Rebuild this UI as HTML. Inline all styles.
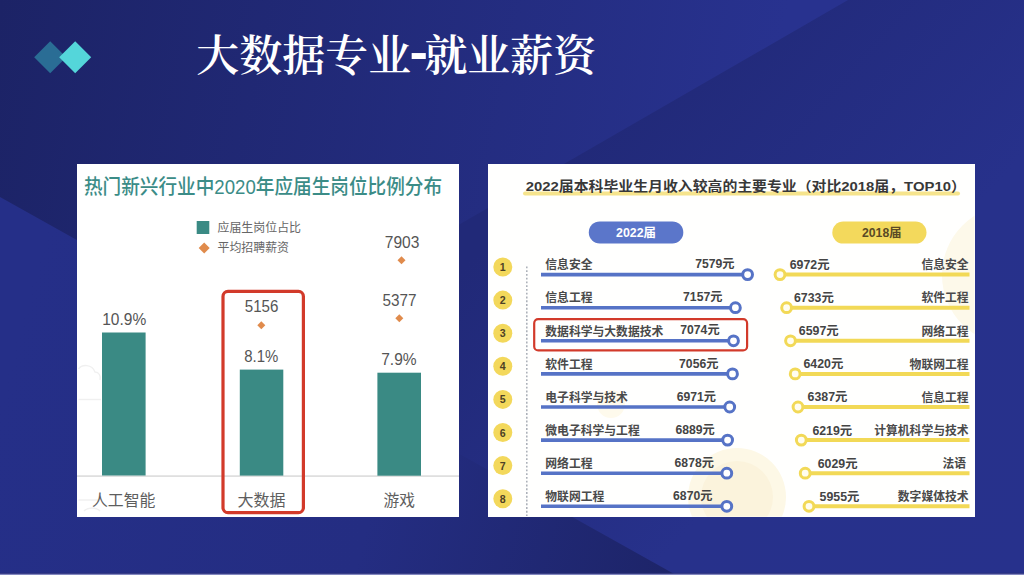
<!DOCTYPE html>
<html lang="zh-CN">
<head>
<meta charset="utf-8">
<title>大数据专业-就业薪资</title>
<style>
html,body{margin:0;padding:0;}
body{width:1024px;height:575px;overflow:hidden;position:relative;background:#232c80;font-family:"Liberation Sans",sans-serif;}
#bg{position:absolute;left:0;top:0;width:1024px;height:575px;}
#title{position:absolute;left:196.2px;top:28.6px;font-family:"Liberation Serif","Noto Serif CJK SC","Noto Serif SC",serif;font-weight:600;font-size:43px;line-height:56px;color:#fff;white-space:nowrap;letter-spacing:0px;}
#title .hy{font-size:54px;line-height:0;font-weight:700;display:inline-block;width:13.2px;text-align:center;text-indent:-1.5px;position:relative;top:-2.2px;transform:scaleY(1.3);}
#lp{position:absolute;left:76.5px;top:164px;width:382.5px;height:353px;background:#fff;overflow:hidden;}
#rp{position:absolute;left:488px;top:164px;width:486.5px;height:352.5px;background:#fffffe;overflow:hidden;}
svg text{font-family:"Liberation Sans","Noto Sans CJK SC",sans-serif;}
#ch{position:absolute;left:0;top:0;width:1024px;height:575px;}
</style>
</head>
<body>
<svg id="bg" viewBox="0 0 1024 575">
  <defs>
    <linearGradient id="g0" gradientUnits="userSpaceOnUse" x1="560" y1="160" x2="1024" y2="575">
      <stop offset="0" stop-color="#212978"/>
      <stop offset="0.55" stop-color="#27318b"/>
      <stop offset="1" stop-color="#27318c"/>
    </linearGradient>
    <linearGradient id="g1" gradientUnits="userSpaceOnUse" x1="0" y1="0" x2="760" y2="150">
      <stop offset="0" stop-color="#1c2366"/>
      <stop offset="1" stop-color="#28328f"/>
    </linearGradient>
    <linearGradient id="g3" gradientUnits="userSpaceOnUse" x1="0" y1="400" x2="680" y2="575">
      <stop offset="0" stop-color="#252f88"/>
      <stop offset="0.55" stop-color="#242d82"/>
      <stop offset="1" stop-color="#1d2468"/>
    </linearGradient>
  </defs>
  <rect width="1024" height="575" fill="url(#g0)"/>
  <polygon points="0,0 848,0 0,489.6" fill="url(#g1)"/>
  <polygon points="0,197 676,575 0,575" fill="url(#g3)"/>
  <rect x="0" y="572.8" width="1024" height="1" fill="#2a3077" opacity="0.8"/>
  <rect x="0" y="573.8" width="1024" height="1.2" fill="#8287bf"/>
</svg>
<svg style="position:absolute;left:30px;top:38px" width="70" height="40" viewBox="30 38 70 40">
  <polygon points="34.2,57.3 50.2,41.3 66.2,57.3 50.2,73.3" fill="#2a6d95"/>
  <polygon points="59.2,57.3 75.2,41.3 91.2,57.3 75.2,73.3" fill="#54d6da"/>
</svg>
<div id="title">大数据专业<span class="hy">-</span>就业薪资</div>
<div id="lp"></div>
<div id="rp"></div>
<svg id="ch" viewBox="0 0 1024 575">
<!-- LEFT PANEL -->
<g id="left">
  <g fill="none" stroke="#f0f0f0" stroke-width="1.4" stroke-linecap="butt">
    <path d="M78.5,369 C82,364 92,364 95,372 C99,372 101,376 100,380"/>
    <path d="M78.5,399.5 H101"/>
    <path d="M78.5,500 H98"/>
    <path d="M84,511 C88,507 96,507 100,511"/>
  </g>
  <text x="84" y="194.3" font-size="20.6" font-weight="500" fill="#3b8c87" textLength="358" lengthAdjust="spacingAndGlyphs">热门新兴行业中2020年应届生岗位比例分布</text>
  <rect x="196.7" y="221" width="12.6" height="13" fill="#3a8a84"/>
  <text x="217.5" y="232.2" font-size="12" fill="#666" textLength="83.5" lengthAdjust="spacingAndGlyphs">应届生岗位占比</text>
  <polygon points="198.7,248 204.2,242.5 209.7,248 204.2,253.5" fill="#e08b4c"/>
  <text x="217.5" y="252.4" font-size="12" fill="#666" textLength="71.5" lengthAdjust="spacingAndGlyphs">平均招聘薪资</text>
  <!-- axis -->
  <rect x="77" y="475.3" width="382" height="1.6" fill="#dcdcdc"/>
  <!-- bars -->
  <rect x="102" y="332.5" width="43.6" height="143" fill="#3a8a84"/>
  <rect x="239.8" y="369.6" width="43.5" height="106" fill="#3a8a84"/>
  <rect x="377.4" y="372.7" width="43.6" height="103" fill="#3a8a84"/>
  <!-- values -->
  <g font-size="16" fill="#555">
    <text x="102.2" y="324.8" textLength="44" lengthAdjust="spacingAndGlyphs">10.9%</text>
    <text x="244.8" y="312.3" textLength="33.6" lengthAdjust="spacingAndGlyphs">5156</text>
    <text x="244.3" y="361.8" textLength="34" lengthAdjust="spacingAndGlyphs">8.1%</text>
    <text x="384.8" y="248.3" textLength="34.6" lengthAdjust="spacingAndGlyphs">7903</text>
    <text x="382.6" y="306.4" textLength="34" lengthAdjust="spacingAndGlyphs">5377</text>
    <text x="381.2" y="364.8" textLength="35.4" lengthAdjust="spacingAndGlyphs">7.9%</text>
  </g>
  <g fill="#e08b4c">
    <polygon points="257.3,325.2 261.3,321.2 265.3,325.2 261.3,329.2"/>
    <polygon points="397.5,260.3 401.5,256.3 405.5,260.3 401.5,264.3"/>
    <polygon points="395.3,318.2 399.3,314.2 403.3,318.2 399.3,322.2"/>
  </g>
  <g font-size="16" fill="#5e5e5e">
    <text x="92" y="505.5" textLength="63.5" lengthAdjust="spacingAndGlyphs">人工智能</text>
    <text x="237.4" y="505.5" textLength="48" lengthAdjust="spacingAndGlyphs">大数据</text>
    <text x="383.6" y="505.5" textLength="31.5" lengthAdjust="spacingAndGlyphs">游戏</text>
  </g>
  <rect x="223" y="291.4" width="80.4" height="221.3" rx="5" ry="5" fill="none" stroke="#d23a2a" stroke-width="3.2"/>
</g>
<!-- RIGHT PANEL -->
<g id="right">
  <clipPath id="rpc"><rect x="488" y="164" width="486.5" height="352.5"/></clipPath>
  <g clip-path="url(#rpc)">
    <circle cx="737" cy="497" r="49" fill="#fdf8e6"/>
    <circle cx="737" cy="497" r="36" fill="#fbf3dc"/>
    <circle cx="1012" cy="275" r="70" fill="#fdf9ea"/>
    <circle cx="611" cy="404" r="14" fill="#fefaec"/>
  </g>
  <rect x="523" y="191.6" width="437" height="4" rx="2" fill="#f6e48c"/>
  <text x="525.8" y="190.5" font-size="13.6" font-weight="700" fill="#383838" textLength="440" lengthAdjust="spacingAndGlyphs">2022届本科毕业生月收入较高的主要专业（对比2018届，TOP10）</text>
  <rect x="588.8" y="221.4" width="94.5" height="22" rx="11" fill="#5b76ca"/>
  <text x="616" y="237" font-size="12.4" font-weight="700" fill="#fff" textLength="40" lengthAdjust="spacingAndGlyphs">2022届</text>
  <rect x="832.3" y="221.6" width="94.2" height="22" rx="11" fill="#f3d95c"/>
  <text x="862" y="237.2" font-size="12.4" font-weight="700" fill="#5a4a25" textLength="39.5" lengthAdjust="spacingAndGlyphs">2018届</text>
  <line x1="526.8" y1="266.4" x2="526.8" y2="516" stroke="#a9aeb6" stroke-width="1.5" stroke-dasharray="1.9 1.86"/>
  <g><!-- row 1 -->
    <circle cx="502.8" cy="267.0" r="9.5" fill="#f3d85b"/>
    <text x="502.8" y="271.0" font-size="10.6" font-weight="700" fill="#4d4126" text-anchor="middle">1</text>
    <line x1="541" y1="274.6" x2="747.6" y2="274.6" stroke="#5673c6" stroke-width="3.6"/>
    <circle cx="747.6" cy="274.6" r="4.9" fill="#fff" stroke="#5673c6" stroke-width="3"/>
    <text x="545.3" y="269.3" font-size="12" font-weight="700" fill="#4a4a4a" textLength="47.2" lengthAdjust="spacingAndGlyphs">信息安全</text>
    <text x="695.2" y="268.2" font-size="12.4" font-weight="700" fill="#444" textLength="39.3" lengthAdjust="spacingAndGlyphs">7579元</text>
    <line x1="780.0" y1="274.6" x2="969.5" y2="274.6" stroke="#f2d957" stroke-width="4"/>
    <circle cx="780.0" cy="274.6" r="4.9" fill="#fffdf0" stroke="#f2d957" stroke-width="3"/>
    <text x="789.7" y="269.0" font-size="12.4" font-weight="700" fill="#444" textLength="39.8" lengthAdjust="spacingAndGlyphs">6972元</text>
    <text x="921.4" y="269.3" font-size="12" font-weight="700" fill="#4a4a4a" textLength="47.2" lengthAdjust="spacingAndGlyphs">信息安全</text>
  </g>
  <g><!-- row 2 -->
    <circle cx="502.8" cy="300.1" r="9.5" fill="#f3d85b"/>
    <text x="502.8" y="304.1" font-size="10.6" font-weight="700" fill="#4d4126" text-anchor="middle">2</text>
    <line x1="541" y1="307.7" x2="735.4" y2="307.7" stroke="#5673c6" stroke-width="3.6"/>
    <circle cx="735.4" cy="307.7" r="4.9" fill="#fff" stroke="#5673c6" stroke-width="3"/>
    <text x="545.3" y="302.4" font-size="12" font-weight="700" fill="#4a4a4a" textLength="47.2" lengthAdjust="spacingAndGlyphs">信息工程</text>
    <text x="683.1" y="301.3" font-size="12.4" font-weight="700" fill="#444" textLength="39.3" lengthAdjust="spacingAndGlyphs">7157元</text>
    <line x1="786.6" y1="307.7" x2="969.5" y2="307.7" stroke="#f2d957" stroke-width="4"/>
    <circle cx="786.6" cy="307.7" r="4.9" fill="#fffdf0" stroke="#f2d957" stroke-width="3"/>
    <text x="794.0" y="302.1" font-size="12.4" font-weight="700" fill="#444" textLength="39.8" lengthAdjust="spacingAndGlyphs">6733元</text>
    <text x="921.4" y="302.4" font-size="12" font-weight="700" fill="#4a4a4a" textLength="47.2" lengthAdjust="spacingAndGlyphs">软件工程</text>
  </g>
  <g><!-- row 3 -->
    <circle cx="502.8" cy="333.2" r="9.5" fill="#f3d85b"/>
    <text x="502.8" y="337.2" font-size="10.6" font-weight="700" fill="#4d4126" text-anchor="middle">3</text>
    <line x1="541" y1="340.8" x2="733.5" y2="340.8" stroke="#5673c6" stroke-width="3.6"/>
    <circle cx="733.5" cy="340.8" r="4.9" fill="#fff" stroke="#5673c6" stroke-width="3"/>
    <text x="545.3" y="335.5" font-size="12" font-weight="700" fill="#4a4a4a" textLength="118.0" lengthAdjust="spacingAndGlyphs">数据科学与大数据技术</text>
    <text x="680.3" y="334.4" font-size="12.4" font-weight="700" fill="#444" textLength="39.3" lengthAdjust="spacingAndGlyphs">7074元</text>
    <line x1="790.5" y1="340.8" x2="969.5" y2="340.8" stroke="#f2d957" stroke-width="4"/>
    <circle cx="790.5" cy="340.8" r="4.9" fill="#fffdf0" stroke="#f2d957" stroke-width="3"/>
    <text x="798.8" y="335.2" font-size="12.4" font-weight="700" fill="#444" textLength="39.8" lengthAdjust="spacingAndGlyphs">6597元</text>
    <text x="921.4" y="335.5" font-size="12" font-weight="700" fill="#4a4a4a" textLength="47.2" lengthAdjust="spacingAndGlyphs">网络工程</text>
  </g>
  <g><!-- row 4 -->
    <circle cx="502.8" cy="366.3" r="9.5" fill="#f3d85b"/>
    <text x="502.8" y="370.3" font-size="10.6" font-weight="700" fill="#4d4126" text-anchor="middle">4</text>
    <line x1="541" y1="373.9" x2="732.5" y2="373.9" stroke="#5673c6" stroke-width="3.6"/>
    <circle cx="732.5" cy="373.9" r="4.9" fill="#fff" stroke="#5673c6" stroke-width="3"/>
    <text x="545.3" y="368.6" font-size="12" font-weight="700" fill="#4a4a4a" textLength="47.2" lengthAdjust="spacingAndGlyphs">软件工程</text>
    <text x="679.1" y="367.5" font-size="12.4" font-weight="700" fill="#444" textLength="39.3" lengthAdjust="spacingAndGlyphs">7056元</text>
    <line x1="795.2" y1="373.9" x2="969.5" y2="373.9" stroke="#f2d957" stroke-width="4"/>
    <circle cx="795.2" cy="373.9" r="4.9" fill="#fffdf0" stroke="#f2d957" stroke-width="3"/>
    <text x="803.5" y="368.3" font-size="12.4" font-weight="700" fill="#444" textLength="39.8" lengthAdjust="spacingAndGlyphs">6420元</text>
    <text x="909.6" y="368.6" font-size="12" font-weight="700" fill="#4a4a4a" textLength="59.0" lengthAdjust="spacingAndGlyphs">物联网工程</text>
  </g>
  <g><!-- row 5 -->
    <circle cx="502.8" cy="399.4" r="9.5" fill="#f3d85b"/>
    <text x="502.8" y="403.4" font-size="10.6" font-weight="700" fill="#4d4126" text-anchor="middle">5</text>
    <line x1="541" y1="407.0" x2="729.7" y2="407.0" stroke="#5673c6" stroke-width="3.6"/>
    <circle cx="729.7" cy="407.0" r="4.9" fill="#fff" stroke="#5673c6" stroke-width="3"/>
    <text x="545.3" y="401.7" font-size="12" font-weight="700" fill="#4a4a4a" textLength="82.6" lengthAdjust="spacingAndGlyphs">电子科学与技术</text>
    <text x="676.7" y="400.6" font-size="12.4" font-weight="700" fill="#444" textLength="39.3" lengthAdjust="spacingAndGlyphs">6971元</text>
    <line x1="798.0" y1="407.0" x2="969.5" y2="407.0" stroke="#f2d957" stroke-width="4"/>
    <circle cx="798.0" cy="407.0" r="4.9" fill="#fffdf0" stroke="#f2d957" stroke-width="3"/>
    <text x="807.6" y="401.4" font-size="12.4" font-weight="700" fill="#444" textLength="39.8" lengthAdjust="spacingAndGlyphs">6387元</text>
    <text x="921.4" y="401.7" font-size="12" font-weight="700" fill="#4a4a4a" textLength="47.2" lengthAdjust="spacingAndGlyphs">信息工程</text>
  </g>
  <g><!-- row 6 -->
    <circle cx="502.8" cy="432.5" r="9.5" fill="#f3d85b"/>
    <text x="502.8" y="436.5" font-size="10.6" font-weight="700" fill="#4d4126" text-anchor="middle">6</text>
    <line x1="541" y1="440.1" x2="727.6" y2="440.1" stroke="#5673c6" stroke-width="3.6"/>
    <circle cx="727.6" cy="440.1" r="4.9" fill="#fff" stroke="#5673c6" stroke-width="3"/>
    <text x="545.3" y="434.8" font-size="12" font-weight="700" fill="#4a4a4a" textLength="94.4" lengthAdjust="spacingAndGlyphs">微电子科学与工程</text>
    <text x="675.5" y="433.7" font-size="12.4" font-weight="700" fill="#444" textLength="39.3" lengthAdjust="spacingAndGlyphs">6889元</text>
    <line x1="801.3" y1="440.1" x2="969.5" y2="440.1" stroke="#f2d957" stroke-width="4"/>
    <circle cx="801.3" cy="440.1" r="4.9" fill="#fffdf0" stroke="#f2d957" stroke-width="3"/>
    <text x="812.4" y="434.5" font-size="12.4" font-weight="700" fill="#444" textLength="39.8" lengthAdjust="spacingAndGlyphs">6219元</text>
    <text x="874.2" y="434.8" font-size="12" font-weight="700" fill="#4a4a4a" textLength="94.4" lengthAdjust="spacingAndGlyphs">计算机科学与技术</text>
  </g>
  <g><!-- row 7 -->
    <circle cx="502.8" cy="465.6" r="9.5" fill="#f3d85b"/>
    <text x="502.8" y="469.6" font-size="10.6" font-weight="700" fill="#4d4126" text-anchor="middle">7</text>
    <line x1="541" y1="473.2" x2="726.8" y2="473.2" stroke="#5673c6" stroke-width="3.6"/>
    <circle cx="726.8" cy="473.2" r="4.9" fill="#fff" stroke="#5673c6" stroke-width="3"/>
    <text x="545.3" y="467.9" font-size="12" font-weight="700" fill="#4a4a4a" textLength="47.2" lengthAdjust="spacingAndGlyphs">网络工程</text>
    <text x="674.6" y="466.8" font-size="12.4" font-weight="700" fill="#444" textLength="39.3" lengthAdjust="spacingAndGlyphs">6878元</text>
    <line x1="805.2" y1="473.2" x2="969.5" y2="473.2" stroke="#f2d957" stroke-width="4"/>
    <circle cx="805.2" cy="473.2" r="4.9" fill="#fffdf0" stroke="#f2d957" stroke-width="3"/>
    <text x="817.7" y="467.6" font-size="12.4" font-weight="700" fill="#444" textLength="39.8" lengthAdjust="spacingAndGlyphs">6029元</text>
    <text x="942.4" y="467.9" font-size="12" font-weight="700" fill="#4a4a4a" textLength="23.6" lengthAdjust="spacingAndGlyphs">法语</text>
  </g>
  <g><!-- row 8 -->
    <circle cx="502.8" cy="498.7" r="9.5" fill="#f3d85b"/>
    <text x="502.8" y="502.7" font-size="10.6" font-weight="700" fill="#4d4126" text-anchor="middle">8</text>
    <line x1="541" y1="506.3" x2="726.8" y2="506.3" stroke="#5673c6" stroke-width="3.6"/>
    <circle cx="726.8" cy="506.3" r="4.9" fill="#fff" stroke="#5673c6" stroke-width="3"/>
    <text x="545.3" y="501.0" font-size="12" font-weight="700" fill="#4a4a4a" textLength="59.0" lengthAdjust="spacingAndGlyphs">物联网工程</text>
    <text x="673.1" y="499.9" font-size="12.4" font-weight="700" fill="#444" textLength="39.3" lengthAdjust="spacingAndGlyphs">6870元</text>
    <line x1="809.0" y1="506.3" x2="969.5" y2="506.3" stroke="#f2d957" stroke-width="4"/>
    <circle cx="809.0" cy="506.3" r="4.9" fill="#fffdf0" stroke="#f2d957" stroke-width="3"/>
    <text x="819.6" y="500.7" font-size="12.4" font-weight="700" fill="#444" textLength="39.8" lengthAdjust="spacingAndGlyphs">5955元</text>
    <text x="897.8" y="501.0" font-size="12" font-weight="700" fill="#4a4a4a" textLength="70.8" lengthAdjust="spacingAndGlyphs">数字媒体技术</text>
  </g>
  <rect x="534.2" y="319.2" width="212.9" height="31.2" rx="4" fill="none" stroke="#d23a2a" stroke-width="2.2"/>
</g>
</svg>
</body>
</html>
